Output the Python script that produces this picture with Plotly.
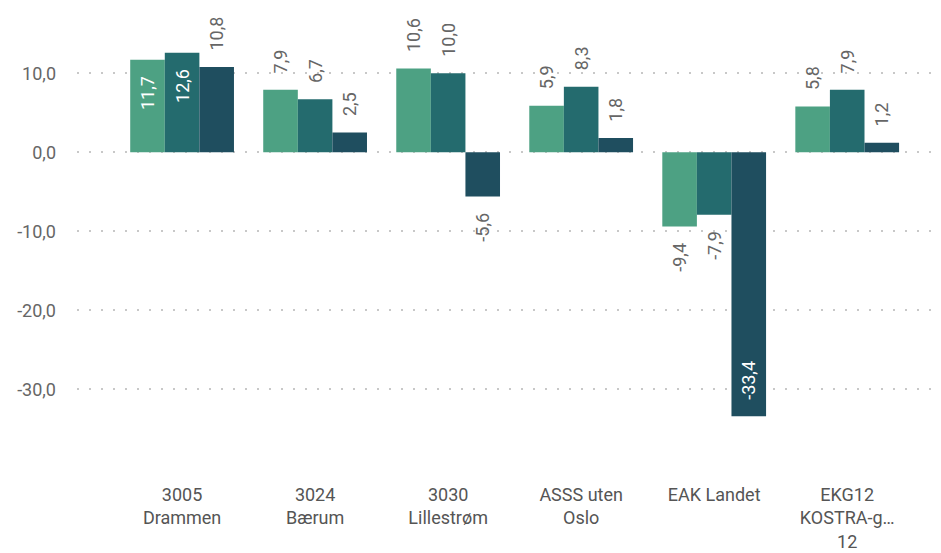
import plotly.graph_objects as go

# Categories and series values
categories = [
    "3005<br>Drammen",
    "3024<br>Bærum",
    "3030<br>Lillestrøm",
    "ASSS uten<br>Oslo",
    "EAK Landet",
    "EKG12<br>KOSTRA-g…<br>12",
]
series_a = [11.7, 7.9, 10.6, 5.9, -9.4, 5.8]
series_b = [12.6, 6.7, 10.0, 8.3, -7.9, 7.9]
series_c = [10.8, 2.5, -5.6, 1.8, -33.4, 1.2]

y_ticks = [10, 0, -10, -20, -30]

colors = ["#4DA183", "#246B6E", "#1F4E5F"]
series = [series_a, series_b, series_c]

# Labels drawn inside the bar (white) vs. outside (grey)
inside_flags = [
    [True, False, False, False, False, False],
    [True, False, False, False, False, False],
    [False, False, False, False, True, False],
]

FONT = "Roboto"
PAD = "\u00a0\u00a0\u00a0"


def fmt(v):
    return f"{v:.1f}".replace(".", ",")


def label(v, inside):
    # rotated text reads bottom-to-top; pad on the side facing the bar end
    s = fmt(v)
    if v >= 0:
        return s + PAD if inside else PAD + s
    return PAD + s if inside else s + PAD


fig = go.Figure()
for vals, col, flags in zip(series, colors, inside_flags):
    fig.add_trace(go.Bar(
        x=list(range(len(categories))),
        y=vals,
        marker=dict(color=col, line=dict(width=0)),
        text=[label(v, f) for v, f in zip(vals, flags)],
        texttemplate="%{text}",
        textposition=["inside" if f else "outside" for f in flags],
        insidetextanchor="end",
        textangle=-90,
        textfont=dict(family=FONT, size=18,
                      color=["#FFFFFF" if f else "#666666" for f in flags]),
        constraintext="none",
        cliponaxis=False,
        showlegend=False,
        hoverinfo="skip",
    ))

fig.update_layout(
    width=941,
    height=553,
    margin=dict(l=77, r=6, t=10, b=83),
    paper_bgcolor="white",
    plot_bgcolor="white",
    barmode="group",
    bargap=0.22,
    bargroupgap=0,
    font=dict(family=FONT, color="#666666", size=18),
    xaxis=dict(
        tickmode="array",
        tickvals=list(range(len(categories))),
        ticktext=categories,
        range=[-0.79, 5.66],
        automargin=False,
        showgrid=False,
        zeroline=False,
        showline=False,
        ticks="",
        ticklabelstandoff=12,
        tickfont=dict(family=FONT, size=18, color="#555555"),
    ),
    yaxis=dict(
        range=[-40.2, 18.0],
        automargin=False,
        tickmode="array",
        tickvals=y_ticks,
        ticktext=[fmt(v) for v in y_ticks],
        showgrid=True,
        gridcolor="#C8C8C8",
        gridwidth=2,
        griddash="2px,10px",
        zeroline=False,
        showline=False,
        ticks="",
        ticklabelstandoff=20,
        tickfont=dict(family=FONT, size=18, color="#666666"),
    ),
)

fig.write_html("out.html")
